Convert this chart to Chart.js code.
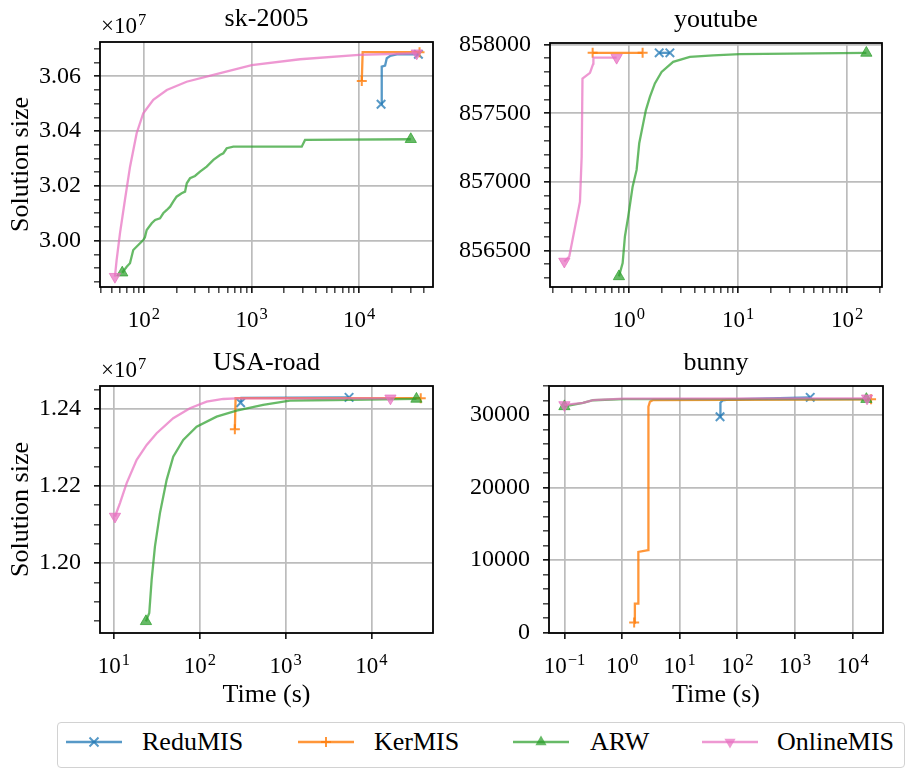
<!DOCTYPE html>
<html>
<head>
<meta charset="utf-8">
<script src="https://cdn.jsdelivr.net/npm/chart.js@4.4.1/dist/chart.umd.min.js"></script>
<style>
  html, body { margin: 0; padding: 0; background: #fff; }
  #fig { position: relative; width: 907px; height: 769px; overflow: hidden;
         font-family: "Liberation Serif", "Times New Roman", serif; }
  canvas { position: absolute; }
  #legend { position: absolute; left: 57px; top: 722px; width: 848px; height: 46px;
            box-sizing: border-box; border: 1.5px solid #d2d2d2; border-radius: 4px; background: #fff; }
  #legend svg { position: absolute; top: 10px; }
  #legend span { position: absolute; top: 6px; font-size: 26px; line-height: 26px; color: #000; white-space: nowrap; }
</style>
</head>
<body>
<div id="fig">
  <canvas id="c1" width="450" height="340" style="left:0;top:0"></canvas>
  <canvas id="c2" width="457" height="340" style="left:450px;top:0"></canvas>
  <canvas id="c3" width="450" height="370" style="left:0;top:340px"></canvas>
  <canvas id="c4" width="457" height="370" style="left:450px;top:340px"></canvas>
  <div id="legend"></div>
</div>
<script>
// ---- data (time in s, solution size) ----
const methods = ["ReduMIS", "KerMIS", "ARW", "OnlineMIS"];

// sk-2005
const skReduX = [16020, 16250, 17460, 18100, 19420, 22440, 35650];
const skReduY = [30498000, 30635000, 30639000, 30666000, 30674000, 30680000, 30680000];
const skKerX = [10600, 10800, 36500];
const skKerY = [30583000, 30688000, 30688000];
const skArwX = [62.8, 69.1, 74.1, 79.5, 88.5, 98.5, 102, 106, 118, 127, 141, 151, 163, 175, 187, 201,
  224, 241, 250, 268, 298, 332, 383, 442, 509, 547, 588, 678, 2930, 3145, 30270];
const skArwY = [29883200, 29905100, 29917500, 29966100, 29984300, 30002600, 30012400, 30039100,
  30063500, 30075600, 30081800, 30100000, 30112100, 30124100, 30142400, 30160600, 30173000,
  30178900, 30209500, 30227800, 30236200, 30251900, 30270100, 30294600, 30312800, 30319000,
  30337300, 30343100, 30343100, 30367600, 30370100];
const skOnlineX = [53.7, 55.7, 59.8, 66.5, 74.2, 85.5, 98.5, 122, 163, 249, 442, 1005, 2825, 10000, 34400];
const skOnlineY = [29868600, 29929600, 30027000, 30148600, 30270000, 30392000, 30465000, 30514000,
  30550000, 30580000, 30605000, 30641000, 30662000, 30678000, 30684000];

// youtube
const ytReduX = [1.895, 2.374];
const ytReduY = [857940, 857940];
const ytKerX = [0.465, 1.335];
const ytKerY = [857940, 857940];
const ytArwX = [0.81, 0.876, 0.919, 0.985, 1.081, 1.176, 1.243, 1.352, 1.431, 1.557, 1.73, 1.993,
  2.545, 3.62, 5.92, 10.39, 150.2];
const ytArwY = [856311, 856409, 856602, 856747, 856965, 857087, 857281, 857426, 857523, 857619,
  857717, 857801, 857874, 857910, 857922, 857930, 857939];
const ytOnlineX = [0.2557, 0.284, 0.3558, 0.3687, 0.3752, 0.4395, 0.471, 0.4725, 0.7716];
const ytOnlineY = [856420, 856456, 856856, 857183, 857753, 857794, 857862, 857905, 857905];

// USA-road
const usaReduX = [298.6, 305, 5480];
const usaReduY = [12416300, 12429000, 12430000];
const usaKerX = [256, 261, 37500];
const usaKerY = [12347400, 12428000, 12428000];
const usaArwX = [23.58, 25.76, 27.47, 30.01, 34.31, 41.07, 49.0, 64.1, 91.8, 156.9, 268, 547, 1119, 3573, 33410];
const usaArwY = [11849000, 11870700, 11957000, 12043300, 12129800, 12216100, 12276400, 12319700,
  12354100, 12380100, 12395600, 12410400, 12421500, 12423300, 12426000];
const usaOnlineX = [10.27, 11.74, 14.05, 18.38, 24.03, 31.41, 49.0, 76.7, 120, 187, 268, 16640];
const usaOnlineY = [12121000, 12155700, 12207500, 12267900, 12306700, 12337000, 12375900, 12401800,
  12418900, 12425900, 12427700, 12427700];

// bunny
const bunReduX = [50.2, 51, 56, 70, 1845];
const bunReduY = [29780, 31700, 32050, 32150, 32450];
const bunKerX = [1.623, 1.67, 1.905, 1.92, 2.844, 2.87, 3.045, 3.475, 20980];
const bunKerY = [1380, 4000, 4000, 11130, 11370, 31160, 31850, 32080, 32180];
const bunArwX = [0.1, 0.21, 0.314, 1.045, 17400];
const bunArwY = [31200, 31700, 32050, 32200, 32200];
const bunOnlineX = [0.1, 0.21, 0.314, 1.045, 17870];
const bunOnlineY = [31400, 31700, 32080, 32260, 32320];

// major tick values
const skXTicks = [100, 1000, 10000];
const skYTicks = [30000000, 30200000, 30400000, 30600000];
const ytXTicks = [1, 10, 100];
const ytYTicks = [856500, 857000, 857500, 858000];
const usaXTicks = [10, 100, 1000, 10000];
const usaYTicks = [12000000, 12200000, 12400000];
const bunXTicks = [0.1, 1, 10, 100, 1000, 10000];
const bunYTicks = [0, 10000, 20000, 30000];

const FONT = '"Liberation Serif", "Times New Roman", serif';
const colors = {
  ReduMIS: "rgba(31,119,180,0.75)",
  KerMIS: "rgba(255,127,14,0.82)",
  ARW: "rgba(44,160,44,0.72)",
  OnlineMIS: "rgba(232,112,192,0.72)",
};
const markers = {
  ReduMIS: { style: "crossRot", r: 6, bw: 2, rot: 0, order: 4 },
  KerMIS: { style: "cross", r: 5, bw: 2, rot: 0, order: 3 },
  ARW: { style: "triangle", r: 6.5, bw: 1, rot: 0, order: 2 },
  OnlineMIS: { style: "triangle", r: 6.5, bw: 1, rot: 180, order: 1 },
};

const panels = [
  { id: "c1", title: "sk-2005", ylabel: true, xlabel: false, offset: true,
    area: { left: 100, top: 42, right: 433, bottom: 287 },
    xMin: 39, xMax: 48700, xTicks: skXTicks, xMinor: true,
    yMin: 29831000, yMax: 30725000, yTicks: skYTicks, yStep: 50000,
    fmt: v => (v / 1e7).toFixed(2),
    series: [[skReduX, skReduY], [skKerX, skKerY], [skArwX, skArwY], [skOnlineX, skOnlineY]] },
  { id: "c2", title: "youtube", ylabel: false, xlabel: false, offset: false,
    area: { left: 100, top: 43, right: 432, bottom: 287 },
    xMin: 0.189, xMax: 209, xTicks: ytXTicks, xMinor: true,
    yMin: 856234, yMax: 858011.6, yTicks: ytYTicks, yStep: 100,
    fmt: v => String(v),
    series: [[ytReduX, ytReduY], [ytKerX, ytKerY], [ytArwX, ytArwY], [ytOnlineX, ytOnlineY]] },
  { id: "c3", title: "USA-road", ylabel: true, xlabel: true, offset: true,
    area: { left: 100, top: 46, right: 433, bottom: 293 },
    xMin: 6.87, xMax: 52100, xTicks: usaXTicks, xMinor: false,
    yMin: 11818700, yMax: 12459600, yTicks: usaYTicks, yStep: 50000,
    fmt: v => (v / 1e7).toFixed(2),
    series: [[usaReduX, usaReduY], [usaKerX, usaKerY], [usaArwX, usaArwY], [usaOnlineX, usaOnlineY]] },
  { id: "c4", title: "bunny", ylabel: false, xlabel: true, offset: false,
    area: { left: 99, top: 46, right: 433, bottom: 293 },
    xMin: 0.054, xMax: 33800, xTicks: bunXTicks, xMinor: false,
    yMin: -55, yMax: 34014, yTicks: bunYTicks, yStep: 2000,
    fmt: v => String(v),
    series: [[bunReduX, bunReduY], [bunKerX, bunKerY], [bunArwX, bunArwY], [bunOnlineX, bunOnlineY]] },
];

function logTicks(min, max, majors, withMinor) {
  const out = majors.map(v => ({ value: v, big: true }));
  if (withMinor) {
    for (let d = Math.floor(Math.log10(min)); d <= Math.ceil(Math.log10(max)); d++) {
      for (let m = 2; m <= 9; m++) {
        const v = m * Math.pow(10, d);
        if (v >= min && v <= max) out.push({ value: v, big: false });
      }
    }
  }
  return out.sort((a, b) => a.value - b.value);
}

function linTicks(min, max, majors, step) {
  const out = majors.map(v => ({ value: v, big: true }));
  for (let k = Math.ceil(min / step); k * step <= max; k++) {
    const v = k * step;
    if (!majors.some(m => Math.abs(m - v) < step / 10)) out.push({ value: v, big: false });
  }
  return out.sort((a, b) => a.value - b.value);
}

// "10" with a raised exponent, centred or left-aligned at x
function drawPower(ctx, base, exp, x, y, align) {
  ctx.font = "23px " + FONT;
  const wb = ctx.measureText(base).width;
  ctx.font = "16.5px " + FONT;
  const we = ctx.measureText(exp).width;
  const x0 = align === "center" ? x - (wb + we + 1) / 2 : x;
  ctx.textAlign = "left";
  ctx.font = "23px " + FONT;
  ctx.fillText(base, x0, y);
  ctx.font = "16.5px " + FONT;
  ctx.fillText(exp, x0 + wb + 1, y - 8.5);
}

function decor(p) {
  return {
    id: "decor",
    afterDraw(chart) {
      const { ctx, chartArea: a } = chart;
      ctx.save();
      ctx.strokeStyle = "#000";
      ctx.lineWidth = 1.8;
      ctx.strokeRect(a.left, a.top, a.right - a.left, a.bottom - a.top);
      ctx.fillStyle = "#000";
      ctx.textBaseline = "alphabetic";
      ctx.font = "26px " + FONT;
      ctx.textAlign = "center";
      ctx.fillText(p.title, (a.left + a.right) / 2, a.top - 16);
      const xs = chart.scales.x;
      xs.ticks.forEach(t => {
        if (!t.big) return;
        const e = Math.round(Math.log10(t.value));
        drawPower(ctx, "10", e < 0 ? "\u2212" + (-e) : String(e), xs.getPixelForValue(t.value), a.bottom + 40, "center");
      });
      if (p.offset) drawPower(ctx, "\u00d710", "7", a.left + 1, a.top - 9, "left");
      if (p.xlabel) {
        ctx.font = "26px " + FONT;
        ctx.textAlign = "center";
        ctx.fillText("Time (s)", (a.left + a.right) / 2, a.bottom + 69);
      }
      if (p.ylabel) {
        ctx.translate(28, (a.top + a.bottom) / 2);
        ctx.rotate(-Math.PI / 2);
        ctx.font = "26px " + FONT;
        ctx.textAlign = "center";
        ctx.fillText("Solution size", 0, 0);
      }
      ctx.restore();
    },
  };
}

const gridColor = c => (c.tick && c.tick.big ? "#bcbcbc" : "rgba(0,0,0,0)");
const tickWidth = c => (c.tick && c.tick.big ? 1.5 : 1.1);

panels.forEach(p => {
  const canvas = document.getElementById(p.id);
  const W = canvas.width, H = canvas.height;
  const datasets = p.series.map(([xs, ys], i) => {
    const name = methods[i];
    const mk = markers[name];
    const last = xs.length - 1;
    return {
      label: name,
      data: xs.map((x, j) => ({ x: x, y: ys[j] })),
      showLine: true,
      borderColor: colors[name],
      backgroundColor: colors[name],
      borderWidth: 2.3,
      tension: 0,
      pointStyle: mk.style,
      pointRotation: mk.rot,
      pointBorderWidth: mk.bw,
      pointRadius: c => (c.dataIndex === 0 || c.dataIndex === last ? mk.r : 0),
      pointHoverRadius: 0,
      order: mk.order,
      clip: false,
    };
  });
  new Chart(canvas, {
    type: "scatter",
    data: { datasets },
    options: {
      responsive: false,
      animation: false,
      events: [],
      layout: { padding: { left: 0, top: p.area.top, right: W - p.area.right, bottom: 0 } },
      plugins: { legend: { display: false }, tooltip: { enabled: false } },
      scales: {
        x: {
          type: "logarithmic",
          min: p.xMin,
          max: p.xMax,
          bounds: "data",
          afterBuildTicks: s => { s.ticks = logTicks(p.xMin, p.xMax, p.xTicks, p.xMinor); },
          afterFit: s => { s.height = H - p.area.bottom; },
          border: { display: false },
          grid: { color: gridColor, lineWidth: 1.7, tickColor: "#000", tickWidth: tickWidth, tickLength: 6 },
          ticks: { autoSkip: false, maxRotation: 0, callback: () => "" },
        },
        y: {
          type: "linear",
          min: p.yMin,
          max: p.yMax,
          bounds: "data",
          afterBuildTicks: s => { s.ticks = linTicks(p.yMin, p.yMax, p.yTicks, p.yStep); },
          afterFit: s => { s.width = p.area.left; },
          border: { display: false },
          grid: { color: gridColor, lineWidth: 1.7, tickColor: "#000", tickWidth: tickWidth, tickLength: 6 },
          ticks: {
            autoSkip: false,
            padding: 13,
            color: "#000",
            font: { family: FONT, size: 24 },
            callback: (v, i, ticks) => (ticks[i].big ? p.fmt(v) : ""),
          },
        },
      },
    },
    plugins: [decor(p)],
  });
});

// shared legend along the bottom
const legendPos = [
  { line: 8, text: 84 },
  { line: 240, text: 316 },
  { line: 455, text: 532 },
  { line: 644, text: 719 },
];
const legendMarks = {
  ReduMIS: c => `<path d="M23.5 4.5 L32.5 13.5 M32.5 4.5 L23.5 13.5" stroke="${c}" stroke-width="2"/>`,
  KerMIS: c => `<path d="M28 4 L28 14 M23 9 L33 9" stroke="${c}" stroke-width="2"/>`,
  ARW: c => `<path d="M28 2.5 L33.6 12.3 L22.4 12.3 Z" fill="${c}"/>`,
  OnlineMIS: c => `<path d="M28 15.5 L33.6 5.7 L22.4 5.7 Z" fill="${c}"/>`,
};
const legend = document.getElementById("legend");
legend.innerHTML = methods.map((m, i) => {
  const c = colors[m];
  return `<svg width="56" height="18" style="left:${legendPos[i].line}px">` +
    `<line x1="0" y1="9" x2="56" y2="9" stroke="${c}" stroke-width="2.6"/>${legendMarks[m](c)}</svg>` +
    `<span style="left:${legendPos[i].text}px">${m}</span>`;
}).join("");
</script>
</body>
</html>
